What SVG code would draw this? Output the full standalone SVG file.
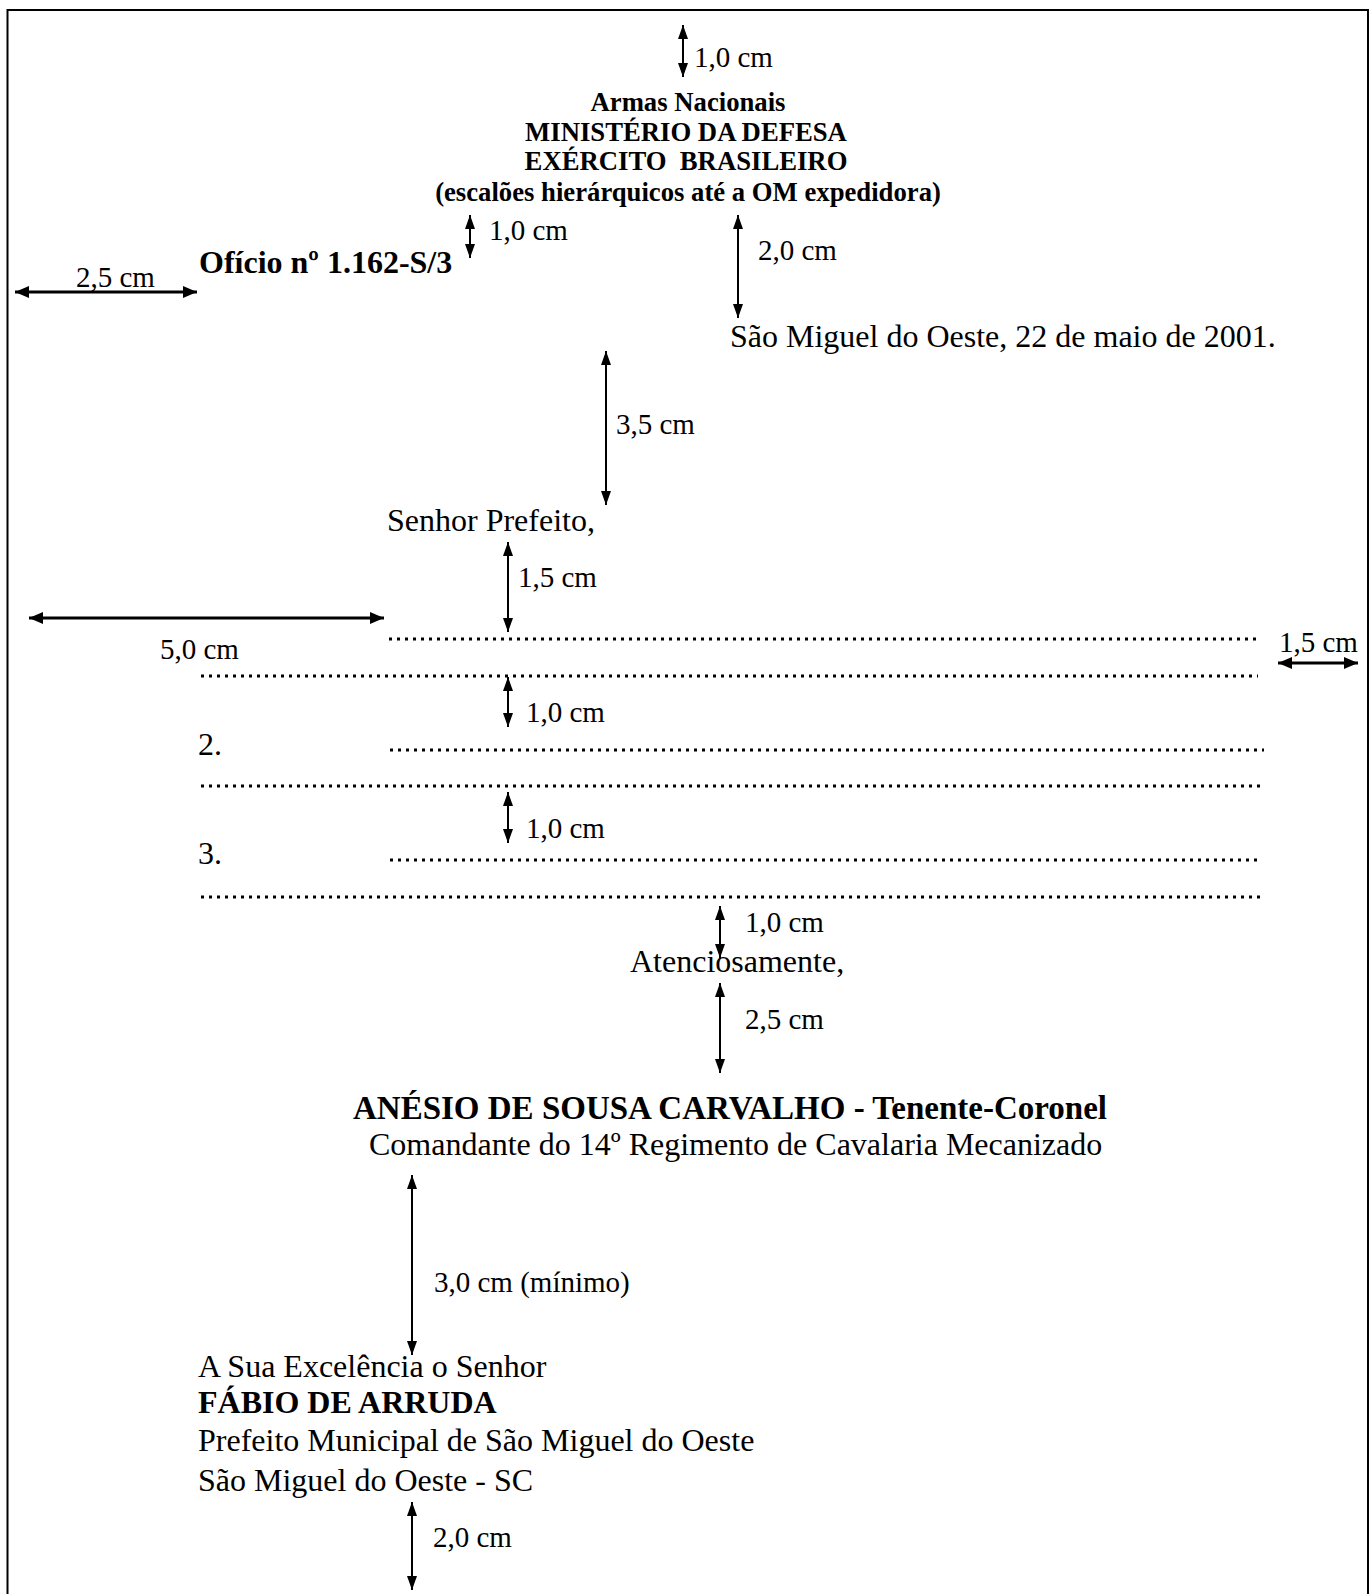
<svg xmlns="http://www.w3.org/2000/svg" width="1370" height="1594" viewBox="0 0 1370 1594">
<style>
text{font-family:"Liberation Serif","Times New Roman",serif;fill:#000}
.h{font-size:26.7px;font-weight:bold;text-anchor:middle}
.b{font-size:32px}
.bb{font-size:32px;font-weight:bold}
.l{font-size:29px}
.arr{stroke:#000;stroke-width:2;fill:none;marker-start:url(#ah);marker-end:url(#ah)}
.arrh{stroke:#000;stroke-width:3;fill:none;marker-start:url(#ah2);marker-end:url(#ah2)}
.dots{stroke:#000;stroke-width:3;stroke-dasharray:3 5;fill:none}
</style>
<defs>
<marker id="ah" viewBox="0 0 14 10" refX="14" refY="5" markerWidth="14" markerHeight="10" markerUnits="userSpaceOnUse" orient="auto-start-reverse"><path d="M0,0 L14,5 L0,10 z" fill="#000"/></marker>
<marker id="ah2" viewBox="0 0 14 12" refX="14" refY="6" markerWidth="14" markerHeight="12" markerUnits="userSpaceOnUse" orient="auto-start-reverse"><path d="M0,0 L14,6 L0,12 z" fill="#000"/></marker>
</defs>
<rect width="1370" height="1594" fill="#fff"/>
<path d="M7.5,1594 V10 H1368 V1594" stroke="#000" stroke-width="2" fill="none"/>

<g id="connectors">
<line class="arr" x1="683" y1="25" x2="683" y2="77"/>
<line class="arr" x1="470" y1="215" x2="470" y2="258"/>
<line class="arr" x1="738" y1="215" x2="738" y2="318"/>
<line class="arrh" x1="15" y1="292" x2="197" y2="292"/>
<line class="arr" x1="606" y1="351" x2="606" y2="505"/>
<line class="arr" x1="508" y1="542" x2="508" y2="632"/>
<line class="arrh" x1="29" y1="618" x2="384" y2="618"/>
<line class="arrh" x1="1278" y1="663" x2="1358" y2="663"/>
<line class="arr" x1="508" y1="677" x2="508" y2="727"/>
<line class="arr" x1="508" y1="792" x2="508" y2="843"/>
<line class="arr" x1="720" y1="906" x2="720" y2="958"/>
<line class="arr" x1="720" y1="983" x2="720" y2="1073"/>
<line class="arr" x1="412" y1="1175" x2="412" y2="1355"/>
<line class="arr" x1="412" y1="1502" x2="412" y2="1590"/>
</g>

<g id="labels">
<text class="l" x="694" y="67">1,0 cm</text>
<text class="l" x="489" y="240">1,0 cm</text>
<text class="l" x="758" y="260">2,0 cm</text>
<text class="l" x="76" y="287">2,5 cm</text>
<text class="l" x="616" y="434">3,5 cm</text>
<text class="l" x="518" y="587">1,5 cm</text>
<text class="l" x="160" y="659">5,0 cm</text>
<text class="l" x="1279" y="652">1,5 cm</text>
<text class="l" x="526" y="722">1,0 cm</text>
<text class="l" x="526" y="838">1,0 cm</text>
<text class="l" x="745" y="932">1,0 cm</text>
<text class="l" x="745" y="1029">2,5 cm</text>
<text class="l" x="434" y="1292">3,0 cm (mínimo)</text>
<text class="l" x="433" y="1547">2,0 cm</text>
</g>

<g id="header">
<text class="h" x="688" y="111">Armas Nacionais</text>
<text class="h" x="686" y="141">MINISTÉRIO DA DEFESA</text>
<text class="h" x="686" y="170" xml:space="preserve">EXÉRCITO  BRASILEIRO</text>
<text class="h" x="688" y="201">(escalões hierárquicos até a OM expedidora)</text>
</g>

<g id="oficio"><text class="bb" x="199" y="273">Ofício nº 1.162-S/3</text></g>
<g id="data"><text class="b" x="730" y="347">São Miguel do Oeste, 22 de maio de 2001.</text></g>
<g id="vocativo"><text class="b" x="387" y="531">Senhor Prefeito,</text></g>

<g id="corpo">
<line class="dots" x1="389" y1="639" x2="1260" y2="639"/>
<line class="dots" x1="201" y1="676" x2="1258" y2="676"/>
<text class="b" x="198" y="755">2.</text>
<line class="dots" x1="390" y1="750" x2="1264" y2="750"/>
<line class="dots" x1="201" y1="786" x2="1260" y2="786"/>
<text class="b" x="198" y="864">3.</text>
<line class="dots" x1="390" y1="860" x2="1257" y2="860"/>
<line class="dots" x1="201" y1="897" x2="1260" y2="897"/>
</g>

<g id="fecho"><text class="b" x="630" y="972">Atenciosamente,</text></g>

<g id="assinatura">
<text class="bb" x="353" y="1119" style="font-size:33px">ANÉSIO DE SOUSA CARVALHO - Tenente-Coronel</text>
<text class="b" x="369" y="1155">Comandante do 14º Regimento de Cavalaria Mecanizado</text>
</g>

<g id="destinatario">
<text class="b" x="198" y="1377">A Sua Excelência o Senhor</text>
<text class="bb" x="198" y="1413">FÁBIO DE ARRUDA</text>
<text class="b" x="198" y="1451">Prefeito Municipal de São Miguel do Oeste</text>
<text class="b" x="198" y="1491">São Miguel do Oeste - SC</text>
</g>
</svg>
